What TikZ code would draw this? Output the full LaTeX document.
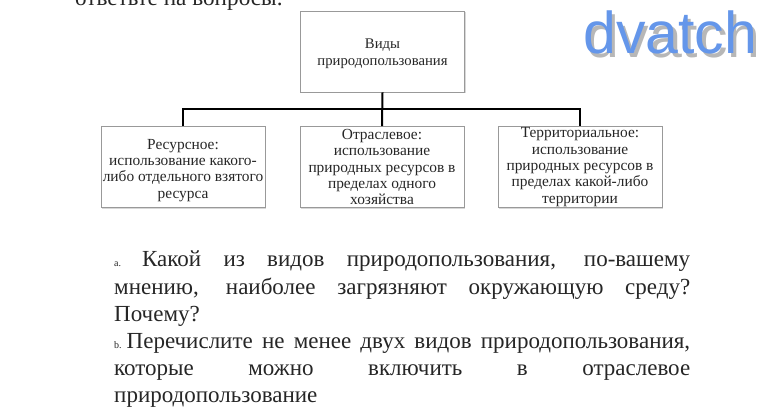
\documentclass[tikz,border=0pt]{standalone}
\usepackage{fontspec}
\setmainfont{Liberation Serif}
\newfontfamily\marksans{Liberation Sans}
\usetikzlibrary{positioning,shadows}
\definecolor{markblue}{HTML}{6496EA}
\newcommand{\fullline}[1]{\leavevmode\hbox to 576pt{\spaceskip=0pt plus 1fil\relax #1}}
\newcommand{\smalltag}[1]{{\fontsize{10}{10}\selectfont #1}}

\tikzset{
	kindbox/.style={draw=black!40, fill=white, line width=0.8pt, minimum width=164pt, minimum height=81pt, inner sep=0pt, align=center, font=\fontsize{15.4}{16.3}\selectfont, text=black!85, drop shadow={shadow xshift=1pt, shadow yshift=-1pt, fill=black!30}},
	link/.style={line width=2pt},
	bodytext/.style={anchor=north west, inner sep=0pt, text width=576pt, align=left, font=\fontsize{23}{27.2}\selectfont, text=black!85}
}

\begin{document}
\begin{tikzpicture}[x=1pt, y=-1pt]
	\useasboundingbox (0,0) rectangle (770,416);
	\clip (0,0) rectangle (770,416);
	\fill[white] (0,0) rectangle (770,416);

	\node[anchor=base west, inner sep=0pt, font=\fontsize{23.2}{25}\selectfont, text=black!85] (intro) at (75,5) {ответьте на вопросы.};

	\node[kindbox, font=\fontsize{14.7}{17}\selectfont] (top) at (382.5,51.5) {\rule{0pt}{15pt}Виды\\природопользования};
	\node[kindbox] (res) at (183,167) {\rule{0pt}{17pt}Ресурсное:\\использование какого-\\либо отдельного взятого\\ресурса};
	\node[kindbox] (mid) at (382,167) {Отраслевое:\\использование\\природных ресурсов в\\пределах одного\\хозяйства};
	\node[kindbox] (ter) at (580,167) {Территориальное:\\использование\\природных ресурсов в\\пределах какой-либо\\территории};

	\coordinate (fork) at (382,109);
	\draw[link] (top.south) -- (mid.north);
	\draw[link] (res.north) |- (fork) -| (ter.north);

	\node[bodytext] (qa) at (114,251) {\fullline{\smalltag{a.}\hspace{21pt}Какой из видов природопользования, по-вашему}\\
		\fullline{мнению, наиболее загрязняют окружающую среду?}\\
		Почему?\\
		\fullline{\smalltag{b.}\hspace{5pt}Перечислите не менее двух видов природопользования,}\\
		\fullline{которые можно включить в отраслевое}\\
		природопользование};

	% watermark
	\node[anchor=base west, inner sep=0pt, font=\marksans\fontsize{59}{59}\selectfont, text=black!40, opacity=0.7] (markshade) at (586.5,57) {dvatch};
	\node[anchor=base west, inner sep=0pt, font=\marksans\fontsize{59}{59}\selectfont, text=markblue] (markname) at (583,53) {dvatch};
\end{tikzpicture}
\end{document}
